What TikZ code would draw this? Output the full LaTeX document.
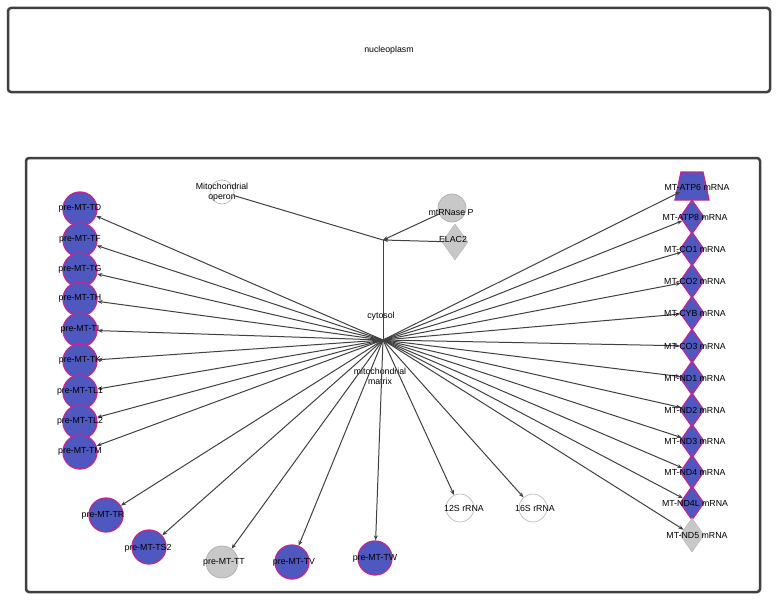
\documentclass[tikz,border=0pt]{standalone}
\usepackage{fontspec}
\setmainfont{Liberation Sans}
\usetikzlibrary{shapes.geometric,arrows.meta}
\definecolor{nb}{RGB}{78,88,190}
\definecolor{nm}{RGB}{190,40,150}
\definecolor{ng}{RGB}{200,200,200}
\begin{document}
\begin{tikzpicture}[x=1pt,y=-1pt,
 box/.style={draw=black!75,line width=2.5pt,rounded corners=3pt},
 bc/.style={circle,draw=nm,fill=nb,line width=1.3pt,minimum size=34pt,inner sep=0pt},
 gc/.style={circle,draw=black!30,fill=ng,line width=0.8pt,minimum size=32pt,inner sep=0pt},
 wc/.style={circle,draw=black!30,fill=white,line width=0.6pt,minimum size=28pt,inner sep=0pt},
 bd/.style={diamond,draw=nm,fill=nb,line width=1.3pt,minimum width=24pt,minimum height=34pt,inner sep=0pt},
 lab/.style={font=\fontsize{8.8}{10}\selectfont,text=black,inner sep=0pt},
 ed/.style={draw=black!75,line width=1pt},
 ar/.style={ed,-{Stealth[length=5pt,width=4pt]}}]
\useasboundingbox (0,0) rectangle (779,602);
\draw[box] (8,8) rectangle (770,92);
\node[lab] (nuc) at (389,50) {nucleoplasm};
\draw[box] (26,158) rectangle (760,592);
\coordinate (hub) at (383,340);
\coordinate (jn) at (383,240);
% top nodes
\node[wc,minimum size=24pt] (op) at (222,192) {};
\node[lab,align=center] (opl) at (222,192) {Mitochondrial\\operon};
\node[gc,minimum size=28pt] (rnp) at (452,208) {};
\node[diamond,draw=black!30,fill=ng,minimum width=26pt,minimum height=36pt,inner sep=0pt] (elac) at (455,242) {};
\node[lab] (rnpl) at (451,213) {mtRNase P};
\node[lab] (elacl) at (453,239) {ELAC2};
\draw[ed] (op) -- (jn);
\draw[ar] (rnp) -- (jn);
\draw[ar] (elac) -- (jn);
\draw[ed] (jn) -- (hub);
\node[lab] (cyt) at (381,316) {cytosol};
\node[lab,align=center] (mm) at (380,376) {mitochondrial\\matrix};
% left column
\foreach \n/\y in {TD/208,TF/239,TG/269,TH/298,TI/329,TK/360,TL1/391,TL2/421,TM/451}{
 \node[bc] (\n) at (80,\y+1) {};
 \draw[ar] (hub) -- (\n);
 \node[lab] (l\n) at (80,\y) {pre-MT-\n};
}
\node[bc] (TR) at (106,515) {}; \draw[ar] (hub) -- (TR); \node[lab] (lTR) at (103,515) {pre-MT-TR};
\node[bc] (TS2) at (149,547) {}; \draw[ar] (hub) -- (TS2); \node[lab] (lTS2) at (148,548) {pre-MT-TS2};
\node[gc] (TT) at (222,562) {}; \draw[ar] (hub) -- (TT); \node[lab] (lTT) at (224,562) {pre-MT-TT};
\node[bc] (TV) at (292,562) {}; \draw[ar] (hub) -- (TV); \node[lab] (lTV) at (294,562) {pre-MT-TV};
\node[bc] (TW) at (375,558) {}; \draw[ar] (hub) -- (TW); \node[lab] (lTW) at (375,558) {pre-MT-TW};
\node[wc] (r12) at (460,508) {}; \draw[ar] (hub) -- (r12); \node[lab] (l12) at (464,508) {12S rRNA};
\node[wc] (r16) at (533,508) {}; \draw[ar] (hub) -- (r16); \node[lab] (l16) at (535,508) {16S rRNA};
% right column
\draw[draw=nm,fill=nb,line width=1.3pt] (681,172) -- (703,172) -- (709,200) -- (675,200) -- cycle;
\node[circle,minimum size=26pt,inner sep=0pt] (ATP6) at (692,186) {};
\draw[ar] (hub) -- (ATP6);
\node[lab] (lATP6) at (697,187) {MT-ATP6 mRNA};
\foreach \n/\y in {ATP8/217,CO1/249,CO2/281,CYB/313,CO3/346,ND1/378,ND2/410,ND3/441,ND4/472,ND4L/503}{
 \node[bd] (\n) at (692,\y) {};
 \draw[ar] (hub) -- (\n);
 \node[lab] (l\n) at (695,\y) {MT-\n{} mRNA};
}
\node[diamond,draw=black!30,fill=ng,minimum width=24pt,minimum height=34pt,inner sep=0pt] (ND5) at (692,535) {};
\draw[ar] (hub) -- (ND5);
\node[lab] (lND5) at (697,536) {MT-ND5 mRNA};
\end{tikzpicture}
\end{document}
